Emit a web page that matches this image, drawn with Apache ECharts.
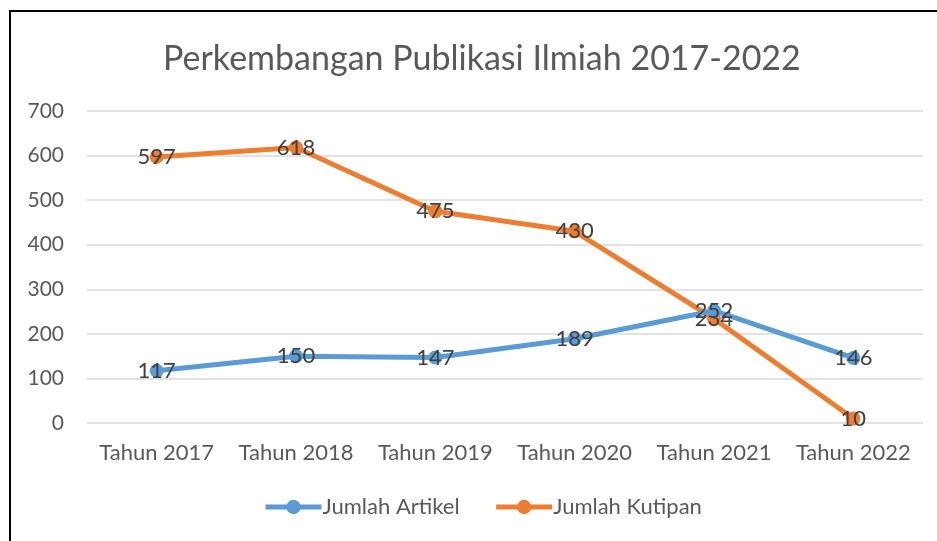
<!DOCTYPE html>
<html><head><meta charset="utf-8">
<script src="https://cdn.jsdelivr.net/npm/echarts@6/dist/echarts.min.js"></script>
<style>html,body{margin:0;padding:0;background:#fff}#c{width:937px;height:541px}</style>
</head><body><div id="c"></div>
<script>
var categories = ['Tahun 2017','Tahun 2018','Tahun 2019','Tahun 2020','Tahun 2021','Tahun 2022'];
var artikel = [117,150,147,189,252,146];
var kutipan = [597,618,475,430,234,10];
var yTicks = [0,100,200,300,400,500,600,700];
var FONT = 'Lato';
var chart = echarts.init(document.getElementById('c'));
var lbl = {show:true, position:'inside', color:'#404040', fontSize:22, fontFamily:FONT};
chart.setOption({
  animation:false,
  graphic:[{type:'rect', shape:{x:10,y:11,width:1000,height:1000}, style:{fill:'none',stroke:'#000',lineWidth:2}, silent:true}],
  title:{text:'Perkembangan Publikasi Ilmiah 2017-2022', left:158, top:37, itemGap:0,
    textStyle:{fontSize:34, fontWeight:'normal', color:'#595959', fontFamily:FONT}},
  legend:{bottom:18, left:258, itemGap:34, itemWidth:56, itemHeight:18,
    lineStyle:{width:5},
    textStyle:{fontSize:22, color:'#595959', fontFamily:FONT, padding:[0,0,0,-4]},
    data:['Jumlah Artikel','Jumlah Kutipan']},
  grid:{left:87, right:14, top:111, bottom:118, containLabel:false},
  xAxis:{type:'category', data:categories, boundaryGap:true,
    axisLine:{show:false}, axisTick:{show:false},
    axisLabel:{interval:0, fontSize:22, color:'#595959', fontFamily:FONT, margin:19}},
  yAxis:{type:'value', min:0, max:700, interval:100,
    axisLine:{show:false}, axisTick:{show:false},
    splitLine:{lineStyle:{color:'#d9d9d9', width:1.5}},
    axisLabel:{fontSize:21, color:'#595959', fontFamily:FONT, margin:23,
      formatter:function(v){return yTicks.indexOf(v)>=0?String(v):'';}}},
  series:[
    {name:'Jumlah Artikel', type:'line', data:artikel, symbol:'circle', symbolSize:14,
      lineStyle:{color:'#5B9BD5', width:5}, itemStyle:{color:'#5B9BD5'}, label:lbl, z:3},
    {name:'Jumlah Kutipan', type:'line', data:kutipan, symbol:'circle', symbolSize:14,
      lineStyle:{color:'#ED7D31', width:5}, itemStyle:{color:'#ED7D31'}, label:lbl, z:2}
  ]
});
</script></body></html>
